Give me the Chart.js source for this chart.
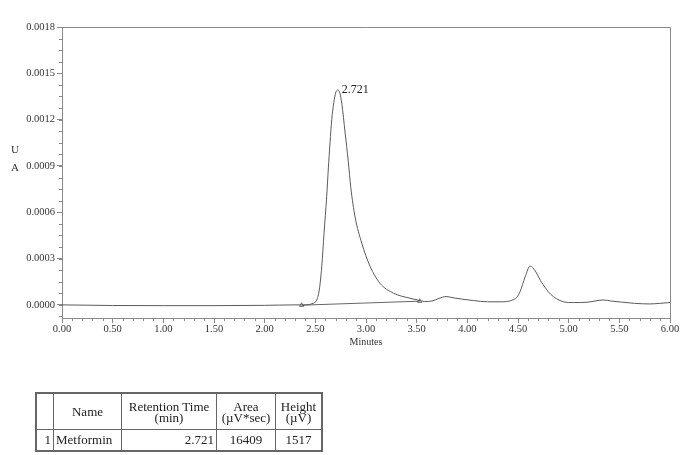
<!DOCTYPE html>
<html>
<head>
<meta charset="utf-8">
<script src="https://cdn.jsdelivr.net/npm/chart.js@4/dist/chart.umd.min.js"></script>
<style>
  html, body { margin: 0; padding: 0; background: #fff; }
  #wrap { position: relative; width: 687px; height: 455px; overflow: hidden; }
  #c { position: absolute; left: 0; top: 0; }
  .ylab { position: absolute; font-family: "Liberation Serif", serif; font-size: 11px; color: #333; }
  table { position: absolute; left: 35px; top: 392px; border-collapse: collapse;
          font-family: "Liberation Serif", serif; font-size: 13px; color: #222; border: 2px solid #666; }
  td, th { border: 1px solid #666; padding: 0 2px; font-weight: normal; }
  th { height: 35px; line-height: 11px; text-align: center; }
  td { height: 20px; }
</style>
</head>
<body>
<div id="wrap">
  <canvas id="c" width="687" height="455"></canvas>
  <div class="ylab" style="left:11px; top:143px;">U</div>
  <div class="ylab" style="left:11px; top:161px;">A</div>
  <table id="tbl">
    <tr>
      <th style="width:12px;"></th>
      <th style="width:63px;">Name</th>
      <th style="width:90px;">Retention Time<br>(min)</th>
      <th style="width:54px;">Area<br>(µV*sec)</th>
      <th style="width:41px;">Height<br>(µV)</th>
    </tr>
    <tr>
      <td style="text-align:right;">1</td>
      <td style="text-align:left;">Metformin</td>
      <td style="text-align:right;">2.721</td>
      <td style="text-align:center;">16409</td>
      <td style="text-align:center;">1517</td>
    </tr>
  </table>
</div>
<script>
// ---- data ----
const timeMin = [0, 0.5, 1.0, 1.5, 2.0, 2.3, 2.381, 2.48, 2.514, 2.539, 2.563, 2.586, 2.612, 2.628, 2.645, 2.662, 2.682, 2.70, 2.721, 2.742, 2.762, 2.793, 2.825, 2.85, 2.892, 2.958, 3.04, 3.138, 3.27, 3.434, 3.516, 3.58, 3.65, 3.72, 3.79, 3.87, 3.95, 4.06, 4.2, 4.35, 4.44, 4.49, 4.52, 4.57, 4.62, 4.67, 4.72, 4.77, 4.82, 4.88, 4.95, 5.05, 5.18, 5.26, 5.34, 5.42, 5.52, 5.65, 5.8, 5.9, 6.0];
const signalAU = [0, -0.000004, -0.000005, -0.000005, -0.000003, 0, 0, 0.000011, 0.000032, 0.000097, 0.000246, 0.000466, 0.00070, 0.00088, 0.00105, 0.00120, 0.00131, 0.001372, 0.001392, 0.001372, 0.00130, 0.00112, 0.00093, 0.00076, 0.00057, 0.0004, 0.00025, 0.00014, 0.000076, 0.000043, 0.00003, 0.000022, 0.000025, 0.000042, 0.000054, 0.000045, 0.000037, 0.000028, 0.00002, 0.00002, 0.00003, 0.00005, 0.000085, 0.00018, 0.000252, 0.00022, 0.00016, 0.00011, 0.00007, 0.00004, 0.00002, 0.000015, 0.000017, 0.000025, 0.000032, 0.000025, 0.000018, 0.00001, 0.000006, 0.00001, 0.000015];
const baselineTime = [2.365, 3.53];
const baselineAU = [-0.000002, 0.000024];
const peakTime = 2.721;
const peakAU = 0.001392;
const peakLabel = "2.721";
const yTickValues = [0, 0.0003, 0.0006, 0.0009, 0.0012, 0.0015, 0.0018];
const xTickValues = [0, 0.5, 1, 1.5, 2, 2.5, 3, 3.5, 4, 4.5, 5, 5.5, 6];

const serif = "'Liberation Serif', 'Times New Roman', serif";
const axisColor = '#8a8a8a';

const framePlugin = {
  id: 'frame',
  afterDraw(chart) {
    const { ctx, chartArea: a, scales } = chart;
    ctx.save();
    ctx.strokeStyle = axisColor; ctx.lineWidth = 1;
    ctx.beginPath();
    ctx.moveTo(a.left, a.top + 0.5); ctx.lineTo(a.right + 0.5, a.top + 0.5);
    ctx.lineTo(a.right + 0.5, a.bottom);
    ctx.stroke();
    const ys = scales.y, xs = scales.x;
    ctx.beginPath();
    for (let v = -0.000075; v <= 0.0018 + 1e-9; v += 0.000075) {
      const p = Math.round(ys.getPixelForValue(v)) + 0.5;
      if (p > a.bottom || p < a.top - 1) continue;
      ctx.moveTo(a.left - 3, p); ctx.lineTo(a.left, p);
    }
    for (let i = 0; i <= 60; i++) {
      if (i % 5 === 0) continue;
      const p = Math.round(xs.getPixelForValue(i / 10)) + 0.5;
      ctx.moveTo(p, a.bottom); ctx.lineTo(p, a.bottom + 3);
    }
    ctx.stroke();
    ctx.fillStyle = '#222';
    ctx.font = '12px ' + serif;
    ctx.textBaseline = 'middle';
    ctx.textAlign = 'left';
    ctx.fillText(peakLabel, xs.getPixelForValue(peakTime) + 4, ys.getPixelForValue(peakAU));
    ctx.restore();
  }
};

new Chart(document.getElementById('c'), {
  type: 'scatter',
  data: {
    datasets: [
      {
        data: timeMin.map((t, i) => ({ x: t, y: signalAU[i] })),
        showLine: true, borderColor: '#5a5a5a', borderWidth: 1, pointRadius: 0,
        cubicInterpolationMode: 'monotone', order: 1
      },
      {
        data: baselineTime.map((t, i) => ({ x: t, y: baselineAU[i] })),
        showLine: true, borderColor: '#666', borderWidth: 1,
        pointStyle: 'triangle', pointRadius: 2.5, pointBorderWidth: 0.8,
        pointBorderColor: '#555', pointBackgroundColor: 'rgba(255,255,255,0)', order: 2
      }
    ]
  },
  options: {
    animation: false, responsive: false, devicePixelRatio: 1,
    layout: { padding: { left: 0, right: 17, top: 27, bottom: 107 } },
    plugins: { legend: { display: false }, tooltip: { enabled: false } },
    scales: {
      x: {
        type: 'linear', min: 0, max: 6,
        afterBuildTicks: s => { s.ticks = xTickValues.map(v => ({ value: v })); },
        afterFit: s => { s.height = 30; },
        grid: { drawOnChartArea: false, drawTicks: true, tickLength: 5, color: axisColor },
        border: { display: true, color: axisColor },
        ticks: { font: { family: serif, size: 10.5 }, color: '#333', padding: 0, maxRotation: 0,
                 callback: v => Number(v).toFixed(2) },
        title: { display: true, text: 'Minutes', font: { family: serif, size: 10 }, color: '#333', padding: { top: 0, bottom: 0 } }
      },
      y: {
        type: 'linear', min: -0.000085, max: 0.0018,
        afterBuildTicks: s => { s.ticks = yTickValues.map(v => ({ value: v })); },
        afterFit: s => { s.width = 62; },
        grid: { drawOnChartArea: false, drawTicks: true, tickLength: 5, color: axisColor },
        border: { display: true, color: axisColor },
        ticks: { font: { family: serif, size: 10.5 }, color: '#333', padding: 2,
                 callback: v => Number(v).toFixed(4) }
      }
    }
  },
  plugins: [framePlugin]
});
</script>
</body>
</html>
